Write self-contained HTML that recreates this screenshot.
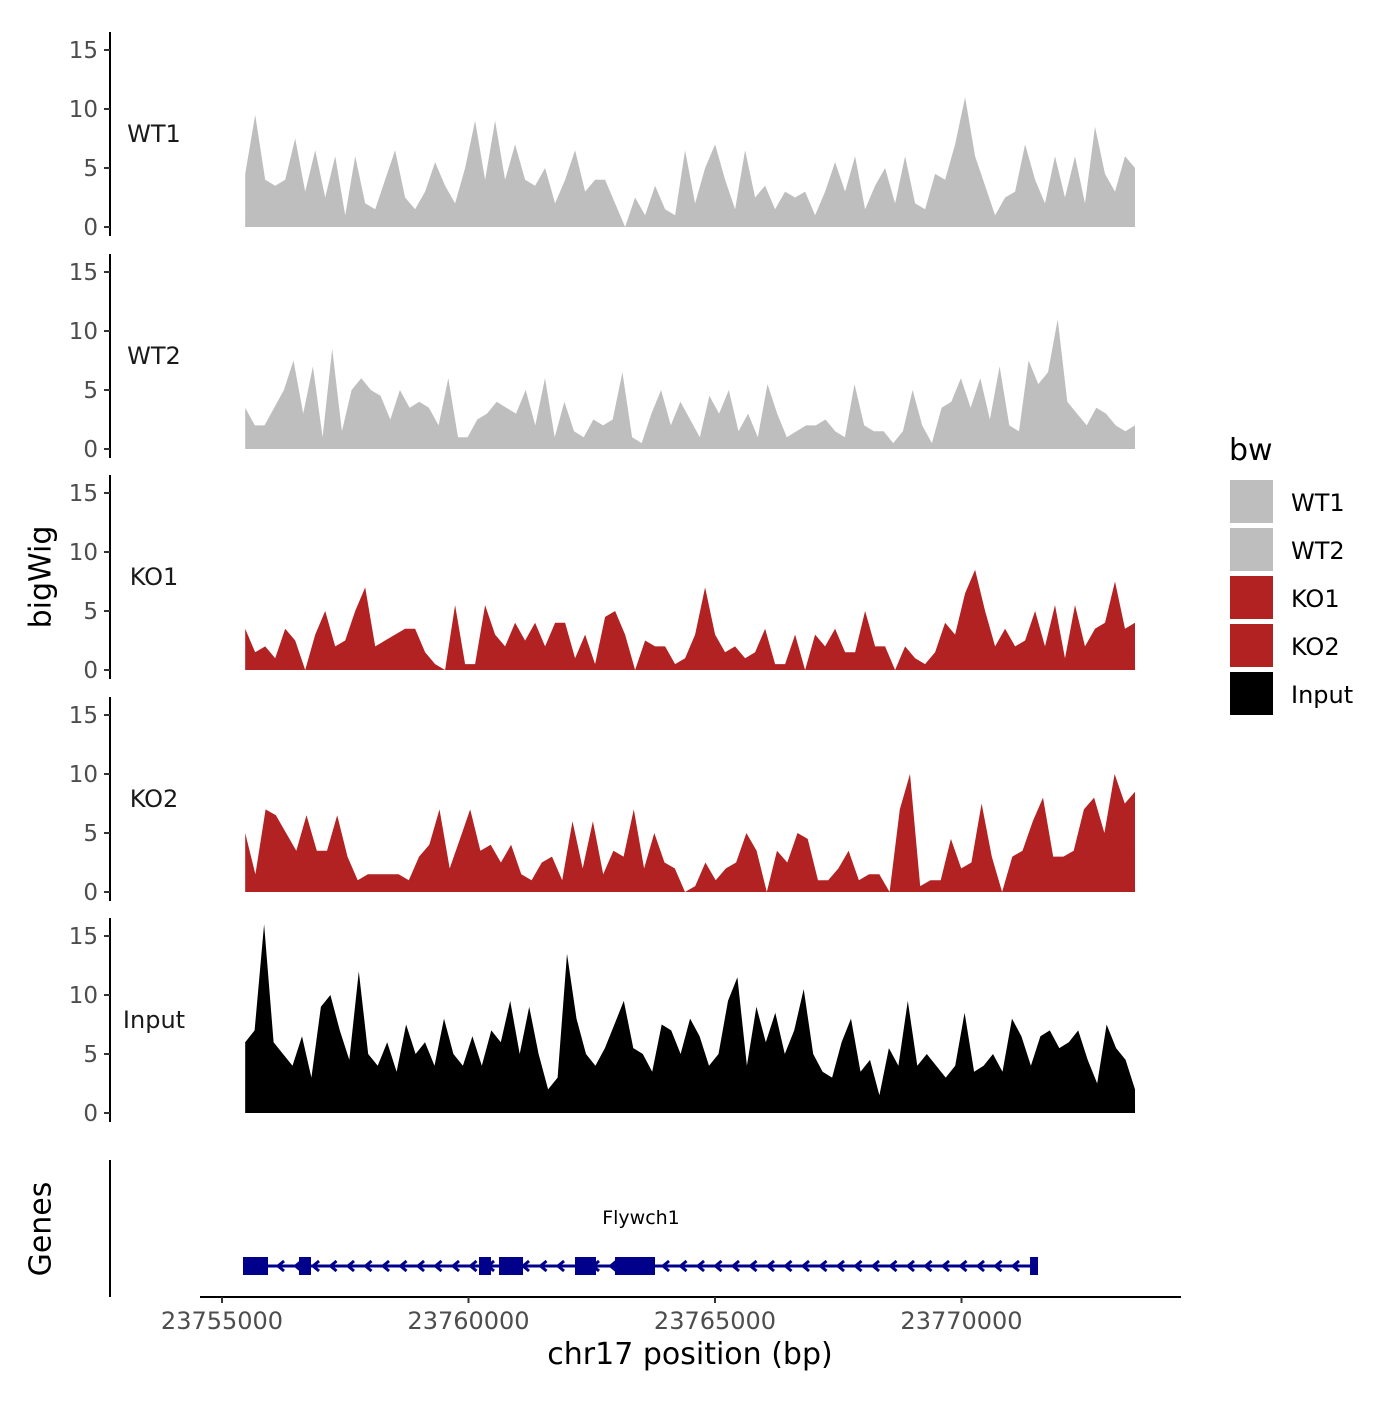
<!DOCTYPE html>
<html><head><meta charset="utf-8"><style>
body{margin:0;background:#fff}
svg text{font-family:"DejaVu Sans","Liberation Sans",sans-serif}
</style></head><body>
<svg id="chart" width="1400" height="1400" viewBox="0 0 1400 1400" xmlns="http://www.w3.org/2000/svg">
<rect width="1400" height="1400" fill="#fff"/>
<g id="tracks"></g>
<g id="genes"></g>
<g id="xaxis"></g>
<text x="42" y="577" font-size="30" text-anchor="middle" transform="rotate(-90 42 577)" dominant-baseline="middle">bigWig</text>
<text x="42" y="1229" font-size="30" text-anchor="middle" transform="rotate(-90 42 1229)" dominant-baseline="middle">Genes</text>
<text x="690" y="1364" font-size="30" text-anchor="middle">chr17 position (bp)</text>
<g id="legend"></g>
</svg>
<script>
const trackNames = ["WT1","WT2","KO1","KO2","Input"];
const trackColors = ["#bebebe","#bebebe","#b22222","#b22222","#000000"];
const yTicks = [0,5,10,15];
const xTicks = [23755000,23760000,23765000,23770000];
const regionStart = 23755470, regionEnd = 23773520;
const wt1 = [4.5,9.5,4,3.5,4,7.5,3,6.5,2.5,6,1,6,2,1.5,4,6.5,2.5,1.5,3,5.5,3.5,2,5,9,4,9,4,7,4,3.5,5,2,4,6.5,3,4,4,2,0,2.5,1,3.5,1.5,1,6.5,2,5,7,4,1.5,6.5,2.5,3.5,1.5,3,2.5,3,1,3,5.5,3,6,1.5,3.5,5,2,6,2,1.5,4.5,4,7,11,6,3.5,1,2.5,3,7,4,2,6,2.5,6,2,8.5,4.5,3,6,5];
const wt2 = [3.5,2,2,3.5,5,7.5,3,7,1,8.5,1.5,5,6,5,4.5,2.5,5,3.5,4,3.5,2,6,1,1,2.5,3,4,3.5,3,5,2,6,1,4,1.5,1,2.5,2,2.5,6.5,1,0.5,3,5,2,4,2.5,1,4.5,3,5,1.5,3,1,5.5,3,1,1.5,2,2,2.5,1.5,1,5.5,2,1.5,1.5,0.5,1.5,5,2,0.5,3.5,4,6,3.5,6,2.5,7,2,1.5,7.5,5.5,6.5,11,4,3,2,3.5,3,2,1.5,2];
const ko1 = [3.5,1.5,2,1,3.5,2.5,0,3,5,2,2.5,5,7,2,2.5,3,3.5,3.5,1.5,0.5,0,5.5,0.5,0.5,5.5,3,2,4,2.5,4,2,4,4,1,3,0.5,4.5,5,3,0,2.5,2,2,0.5,1,3,7,3,1.5,2,1,1.5,3.5,0.5,0.5,3,0,3,2,3.5,1.5,1.5,5,2,2,0,2,1,0.5,1.5,4,3,6.5,8.5,5,2,3.5,2,2.5,5,2,5.5,1,5.5,2,3.5,4,7.5,3.5,4];
const ko2 = [5,1.5,7,6.5,5,3.5,6.5,3.5,3.5,6.5,3,1,1.5,1.5,1.5,1.5,1,3,4,7,2,4.5,7,3.5,4,2.5,4,1.5,1,2.5,3,1,6,2,6,1.5,3.5,3,7,2,5,2.5,2,0,0.5,2.5,1,2,2.5,5,3.5,0,3.5,2.5,5,4.5,1,1,2,3.5,1,1.5,1.5,0,7,10,0.5,1,1,4.5,2,2.5,7.5,3,0,3,3.5,6,8,3,3,3.5,7,8,5,10,7.5,8.5];
const input = [6,7,16,6,5,4,6.5,3,9,10,7,4.5,12,5,4,6,3.5,7.5,5,6,4,8,5,4,6.5,4,7,6,9.5,5,9,5,2,3,13.5,8,5,4,5.5,7.5,9.5,5.5,5,3.5,7.5,7,5,8,6.5,4,5,9.5,11.5,4,9,6,8.5,5,7,10.5,5,3.5,3,6,8,3.5,4.5,1.5,5.5,4,9.5,4,5,4,3,4,8.5,3.5,4,5,3.5,8,6.5,4,6.5,7,5.5,6,7,4.5,2.5,7.5,5.5,4.5,2];
const trackValues = [wt1,wt2,ko1,ko2,input];
const geneStart = 23755467, geneEnd = 23771491;
const exonStarts = [23755426,23756562,23760213,23760619,23762160,23762972,23763400,23771390];
const exonEnds = [23755933,23756805,23760456,23761106,23762586,23763450,23763783,23771552];

const NS="http://www.w3.org/2000/svg";
function el(tag,attrs,parent,text){const e=document.createElementNS(NS,tag);for(const k in attrs)e.setAttribute(k,attrs[k]);if(text!==undefined)e.textContent=text;parent.appendChild(e);return e;}
const xScale = v => 222 + (v-23755000)/5000*246.5;
const bases = [227,449,670,892,1113];
const yScale = (v,k) => bases[k] - v*11.8;

const tg=document.getElementById('tracks');
trackValues.forEach((vals,k)=>{
  const g=el('g',{},tg);
  
  
  const n=vals.length;
  let pts=[];
  pts.push(xScale(regionStart)+','+bases[k]);
  vals.forEach((v,i)=>{const x=xScale(regionStart+i*(regionEnd-regionStart)/(n-1));pts.push(x.toFixed(1)+','+yScale(v,k).toFixed(1));});
  pts.push(xScale(regionEnd)+','+bases[k]);
  const p=el('polygon',{points:pts.join(' '),fill:trackColors[k]},g);
  
  
  const ax=el('line',{x1:110,x2:110,y1:bases[k]-195,y2:bases[k]+9,stroke:'#000','stroke-width':2},g);
  
  
  yTicks.forEach(t=>{
    const y=yScale(t,k);
    el('line',{x1:104,x2:110,y1:y,y2:y,stroke:'#333','stroke-width':2},g);
    const tx=el('text',{x:98,y:y+8,'font-size':23,'text-anchor':'end',fill:'#4d4d4d'},g,String(t));
    
    
  });
  const lb=el('text',{x:154,y:bases[k]-93+8,'font-size':24,'text-anchor':'middle',fill:'#1a1a1a'},g,trackNames[k]);
  
  
});

const gg=document.getElementById('genes');
el('line',{x1:110,x2:110,y1:1160,y2:1297,stroke:'#000','stroke-width':2},gg);
const gy=1266;
el('line',{x1:xScale(geneStart),x2:xScale(geneEnd),y1:gy,y2:gy,stroke:'#00008b','stroke-width':3},gg);
for(let x=xScale(geneStart)+35;x<xScale(geneEnd);x+=17.5){
  el('polyline',{points:(x+4)+','+(gy-5)+' '+(x-2)+','+gy+' '+(x+4)+','+(gy+5),fill:'none',stroke:'#00008b','stroke-width':3},gg);
}
exonStarts.forEach((s,i)=>{
  const r=el('rect',{x:xScale(s),y:gy-9,width:xScale(exonEnds[i])-xScale(s),height:18,fill:'#00008b'},gg);
  
  
});
const gl=el('text',{x:641,y:1224,'font-size':19,'text-anchor':'middle'},gg,'Flywch1');



const xg=document.getElementById('xaxis');
el('line',{x1:200,x2:1181,y1:1297,y2:1297,stroke:'#000','stroke-width':2},xg);
xTicks.forEach(t=>{
  const x=xScale(t);
  el('line',{x1:x,x2:x,y1:1297,y2:1303,stroke:'#333','stroke-width':2},xg);
  const tx=el('text',{x:x,y:1329,'font-size':24,'text-anchor':'middle',fill:'#4d4d4d'},xg,String(t));
  
  
});

const lg=document.getElementById('legend');
el('text',{x:1229,y:460,'font-size':30},lg,'bw');
trackNames.forEach((n,i)=>{
  const y=480+i*48;
  const r=el('rect',{x:1230,y:y,width:43,height:43,fill:trackColors[i]},lg);
  
  
  const t=el('text',{x:1291,y:y+31,'font-size':24},lg,n);
  
  
});
</script>
</body></html>
